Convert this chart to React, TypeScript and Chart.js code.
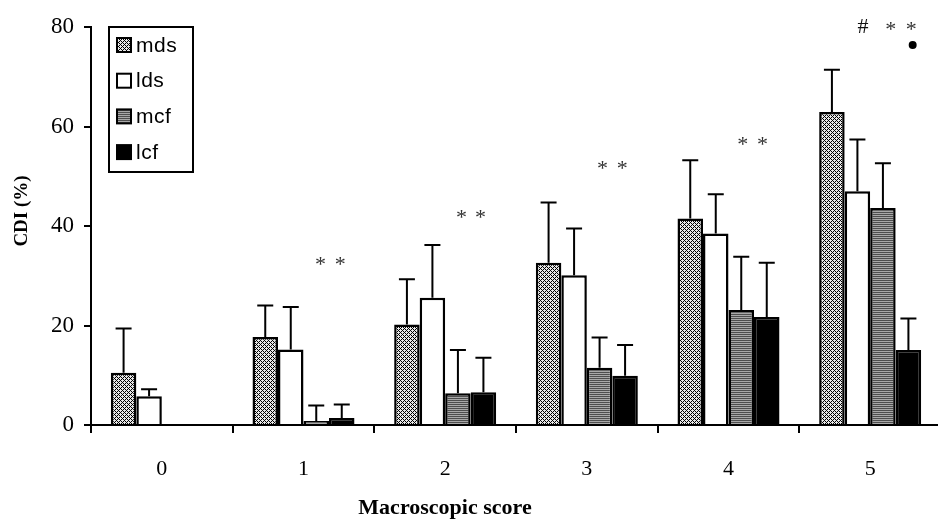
import React, { useEffect, useRef } from "react";
import { Chart, registerables } from "chart.js";

Chart.register(...registerables);

// Macroscopic score categories
const scores = ["0", "1", "2", "3", "4", "5"];

// Mean CDI (%) per group
const mds = [10.5, 17.7, 20.2, 32.6, 41.5, 62.9];
const lds = [5.8, 15.2, 25.6, 30.1, 38.5, 47.0];
const mcf = [0, 0.8, 6.4, 11.5, 23.1, 43.6];
const lcf = [0, 1.4, 6.6, 9.9, 21.7, 15.1];

// Upper standard deviation for each mean
const mdsErr = [8.9, 6.3, 9.1, 12.1, 11.7, 8.5];
const ldsErr = [1.4, 8.5, 10.6, 9.4, 7.9, 10.4];
const mcfErr = [0, 3.1, 8.7, 6.1, 10.7, 9.0];
const lcfErr = [0, 2.7, 6.9, 6.2, 10.9, 6.3];

// Significance marks: category position, CDI level, symbol
const markPos = [1.12, 1.26, 2.115, 2.25, 3.11, 3.25, 4.1, 4.24, 4.95, 5.146, 5.29];
const markVal = [33.0, 33.0, 42.5, 42.5, 52.3, 52.3, 57.1, 57.1, 80.2, 80.2, 80.2];
const markText = ["*", "*", "*", "*", "*", "*", "*", "*", "#", "*", "*"];
const dotPos = [5.3];
const dotVal = [76.4];

const yTicks = [0, 20, 40, 60, 80];

const xTitle = "Macroscopic score";
const yTitle = "CDI (%)";

const serif = "'Liberation Serif', 'Times New Roman', serif";

function makePattern(kind: "diag" | "stripe"): CanvasPattern | string {
  const c = document.createElement("canvas");
  const g = c.getContext("2d");
  if (!g) return "#888";
  if (kind === "diag") {
    c.width = 4;
    c.height = 4;
    g.fillStyle = "#e8e8e8";
    g.fillRect(0, 0, 4, 4);
    g.fillStyle = "#000";
    for (let y = 0; y < 4; y++) {
      for (let x = 0; x < 4; x++) {
        const d = (x - y + 8) % 4;
        if (d === 0 || (d === 2 && (x + y) % 4 === 0)) {
          g.fillRect(x, y, 1, 1);
        }
      }
    }
  } else {
    c.width = 2;
    c.height = 2;
    g.fillStyle = "#4e4e4e";
    g.fillRect(0, 0, 2, 1);
    g.fillStyle = "#a8a8a8";
    g.fillRect(0, 1, 2, 1);
  }
  const p = g.createPattern(c, "repeat");
  return p || "#888";
}

const errorBarPlugin = {
  id: "upperErrorBars",
  afterDatasetsDraw(chart: any) {
    const { ctx } = chart;
    const yScale = chart.scales.y;
    ctx.save();
    ctx.strokeStyle = "#000";
    ctx.lineWidth = 2;
    chart.data.datasets.forEach((ds: any, i: number) => {
      const meta = chart.getDatasetMeta(i);
      meta.data.forEach((bar: any, j: number) => {
        const err = ds.errors[j];
        if (!err) return;
        const top = yScale.getPixelForValue(ds.data[j] + err);
        ctx.beginPath();
        ctx.moveTo(bar.x, bar.y);
        ctx.lineTo(bar.x, top);
        ctx.moveTo(bar.x - 8, top);
        ctx.lineTo(bar.x + 8, top);
        ctx.stroke();
      });
    });
    ctx.restore();
  },
};

const marksPlugin = {
  id: "significanceMarks",
  afterDatasetsDraw(chart: any) {
    const { ctx } = chart;
    const xs = chart.scales.x;
    const ys = chart.scales.y;
    const size = 22;
    ctx.save();
    ctx.font = `${size}px ${serif}`;
    ctx.textAlign = "center";
    ctx.textBaseline = "alphabetic";
    markText.forEach((t, i) => {
      const x = xs.getPixelForValue(markPos[i]);
      const y = ys.getPixelForValue(markVal[i]);
      ctx.fillStyle = t === "*" ? "#333" : "#111";
      const k = t === "*" ? 0.47 : 0.34;
      ctx.fillText(t, x, y + k * size);
    });
    ctx.fillStyle = "#000";
    dotPos.forEach((p, i) => {
      ctx.beginPath();
      ctx.arc(xs.getPixelForValue(p), ys.getPixelForValue(dotVal[i]), 4, 0, Math.PI * 2);
      ctx.fill();
    });
    ctx.restore();
  },
};

// Axis titles placed by hand: the x title sits left of the plot centre
const axisTitlePlugin = {
  id: "axisTitles",
  afterDraw(chart: any) {
    const { ctx, chartArea } = chart;
    ctx.save();
    ctx.fillStyle = "#000";
    ctx.textAlign = "center";
    ctx.textBaseline = "middle";
    ctx.font = `bold 22px ${serif}`;
    ctx.fillText(xTitle, chartArea.left + 354, chart.height - 13);
    ctx.translate(22, chartArea.top + 184);
    ctx.rotate(-Math.PI / 2);
    ctx.font = `bold 19px ${serif}`;
    ctx.fillText(yTitle, 0, 0);
    ctx.restore();
  },
};

const legendPlugin = {
  id: "boxedLegend",
  afterDraw(chart: any) {
    const { ctx, chartArea } = chart;
    const x0 = chartArea.left + 18;
    const y0 = chartArea.top;
    const w = 84;
    const h = 145;
    ctx.save();
    ctx.fillStyle = "#fff";
    ctx.fillRect(x0, y0, w, h);
    ctx.strokeStyle = "#000";
    ctx.lineWidth = 2;
    ctx.strokeRect(x0, y0, w, h);
    ctx.font = '21px "Liberation Sans"';
    try {
      (ctx as any).letterSpacing = "0.5px";
    } catch (e) {
      /* older canvas without letterSpacing */
    }
    ctx.textBaseline = "middle";
    ctx.textAlign = "left";
    chart.data.datasets.forEach((ds: any, i: number) => {
      const cy = y0 + 18 + i * 35.7;
      ctx.fillStyle = ds.backgroundColor;
      ctx.fillRect(x0 + 8, cy - 7, 14, 14);
      ctx.lineWidth = 2;
      ctx.strokeRect(x0 + 8, cy - 7, 14, 14);
      ctx.fillStyle = "#000";
      ctx.fillText(ds.label, x0 + 27, cy + 1);
    });
    ctx.restore();
  },
};

export default function App() {
  const canvasRef = useRef<HTMLCanvasElement | null>(null);

  useEffect(() => {
    const canvas = canvasRef.current;
    if (!canvas) return;
    const diag = makePattern("diag");
    const stripe = makePattern("stripe");
    const series = [
      { label: "mds", data: mds, errors: mdsErr, bg: diag },
      { label: "lds", data: lds, errors: ldsErr, bg: "#ffffff" },
      { label: "mcf", data: mcf, errors: mcfErr, bg: stripe },
      { label: "lcf", data: lcf, errors: lcfErr, bg: "#000000" },
    ];
    const chart = new Chart(canvas, {
      type: "bar",
      data: {
        labels: scores,
        datasets: series.map((s) => ({
          label: s.label,
          data: s.data,
          errors: s.errors,
          backgroundColor: s.bg,
          borderColor: "#000",
          borderWidth: 2.5,
          barPercentage: 1,
          categoryPercentage: 0.72,
        })) as any,
      },
      options: {
        animation: false,
        responsive: false,
        events: [],
        layout: { padding: { top: 27, left: 0, right: 0, bottom: 0 } },
        plugins: {
          legend: { display: false },
          tooltip: { enabled: false },
        },
        scales: {
          x: {
            offset: true,
            grid: {
              offset: true,
              drawOnChartArea: false,
              drawTicks: true,
              tickLength: 8,
              color: "#000",
              lineWidth: 2,
            },
            border: { display: true, color: "#000", width: 2 },
            ticks: {
              color: "#000",
              font: { family: serif, size: 22 },
              padding: 23,
            },
            title: { display: false },
            afterFit(scale: any) {
              scale.height = 96;
            },
          },
          y: {
            min: 0,
            max: 80,
            afterBuildTicks(scale: any) {
              scale.ticks = yTicks.map((v) => ({ value: v }));
            },
            grid: {
              drawOnChartArea: false,
              drawTicks: true,
              tickLength: 7,
              color: "#000",
              lineWidth: 2,
            },
            border: { display: true, color: "#000", width: 2 },
            ticks: {
              color: "#000",
              font: { family: serif, size: 23 },
              padding: 10,
            },
            title: { display: false },
            afterFit(scale: any) {
              scale.width = 91;
            },
          },
        },
      },
      plugins: [errorBarPlugin, marksPlugin, axisTitlePlugin, legendPlugin],
    });
    return () => chart.destroy();
  }, []);

  return (
    <div
      style={{
        position: "fixed",
        left: 0,
        top: 0,
        width: 938,
        height: 521,
        overflow: "hidden",
        background: "#fff",
      }}
    >
      <canvas ref={canvasRef} width={941} height={521} style={{ width: 941, height: 521, display: "block" }} />
    </div>
  );
}
